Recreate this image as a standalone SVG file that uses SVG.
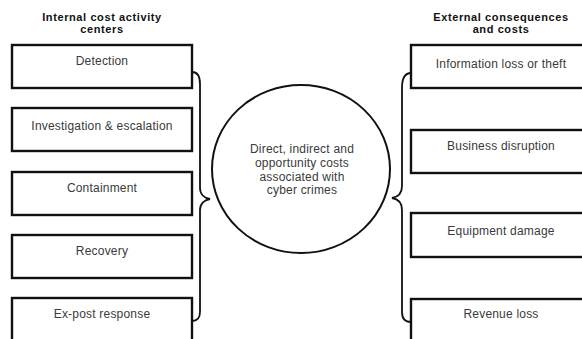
<svg xmlns="http://www.w3.org/2000/svg" width="582" height="339" viewBox="0 0 582 339">
<style>
.box{fill:#fff;stroke:#111;stroke-width:2.4}
.lbl{font-family:"Liberation Sans",Arial,sans-serif;font-size:12px;letter-spacing:0.2px;fill:#3a3a3a;text-anchor:middle}
.hdr{font-family:"Liberation Sans",Arial,sans-serif;font-size:11px;letter-spacing:0.6px;font-weight:bold;fill:#111;text-anchor:middle}
.brace{fill:none;stroke:#111;stroke-width:1.8}
</style>
<rect width="582" height="339" fill="#fff"/>
<g id="headers">
<text class="hdr" x="102" y="21">Internal cost activity</text>
<text class="hdr" x="102" y="33">centers</text>
<text class="hdr" x="501" y="21">External consequences</text>
<text class="hdr" x="501" y="33">and costs</text>
</g>
<g id="detection"><rect class="box" x="12" y="45" width="180" height="43"/><text class="lbl" x="102" y="65">Detection</text></g>
<g id="investigation"><rect class="box" x="12" y="108" width="180" height="43"/><text class="lbl" x="102" y="130">Investigation &amp; escalation</text></g>
<g id="containment"><rect class="box" x="12" y="172" width="180" height="43"/><text class="lbl" x="102" y="192">Containment</text></g>
<g id="recovery"><rect class="box" x="12" y="235" width="180" height="43"/><text class="lbl" x="102" y="255">Recovery</text></g>
<g id="expost"><rect class="box" x="12" y="298" width="180" height="60"/><text class="lbl" x="102" y="318">Ex-post response</text></g>
<g id="info"><rect class="box" x="411" y="45" width="185" height="43"/><text class="lbl" x="501" y="68">Information loss or theft</text></g>
<g id="business"><rect class="box" x="411" y="130" width="185" height="43"/><text class="lbl" x="501" y="150">Business disruption</text></g>
<g id="equipment"><rect class="box" x="411" y="213" width="185" height="44"/><text class="lbl" x="501" y="235">Equipment damage</text></g>
<g id="revenue"><rect class="box" x="411" y="299" width="185" height="60"/><text class="lbl" x="501" y="318">Revenue loss</text></g>
<g id="center">
<ellipse cx="301" cy="169" rx="89" ry="84" fill="#fff" stroke="#111" stroke-width="2"/>
<text class="lbl" x="302" y="153">Direct, indirect and</text>
<text class="lbl" x="302" y="167">opportunity costs</text>
<text class="lbl" x="302" y="181">associated with</text>
<text class="lbl" x="302" y="194">cyber crimes</text>
</g>
<g id="connectors">
<path class="brace" d="M192,72 C198,72 200,77 200,84 L200,188 C200,194 204,198 210,199 C204,200 200,204 200,210 L200,312 C200,318 197,321 192,321"/>
<path class="brace" d="M411,73 C405,73 402,79 402,88 L402,186 C402,193 398,197 392,198 C398,199 402,203 402,210 L402,312 C402,318 405,322 411,322"/>
</g>
</svg>
